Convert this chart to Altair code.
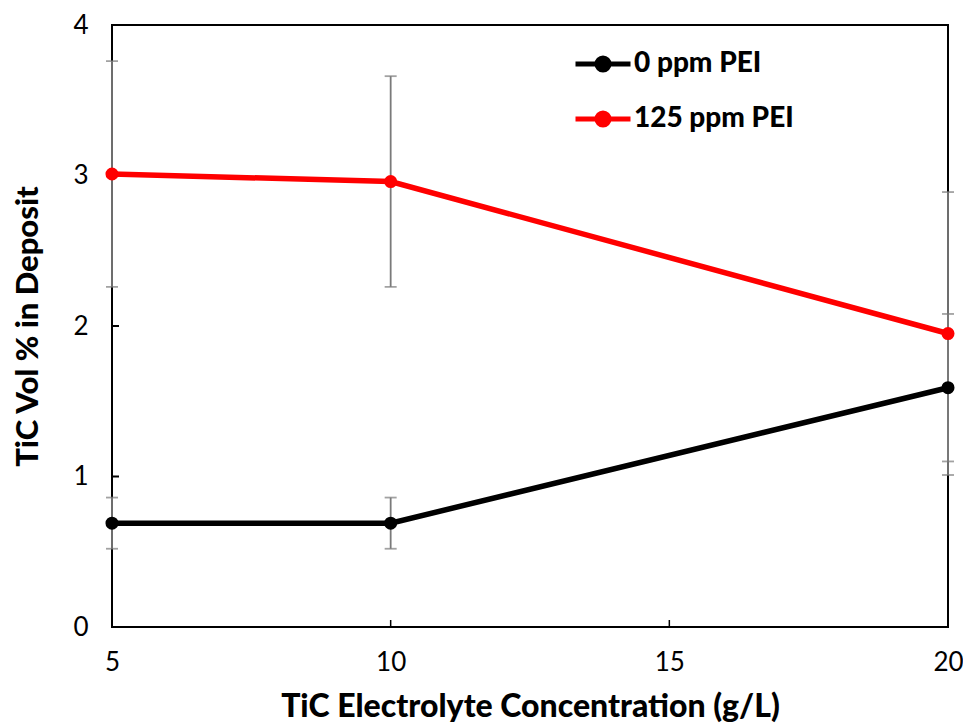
import altair as alt
import pandas as pd

series_names = ["0 ppm PEI", "125 ppm PEI"]
conc = [5, 10, 20]
vals_0 = [0.69, 0.69, 1.59]
err_0 = [0.17, 0.17, 0.49]
vals_125 = [3.01, 2.96, 1.95]
err_125 = [0.75, 0.70, 0.94]
x_ticks = [5, 10, 15, 20]
y_ticks = [0, 1, 2, 3, 4]
colors = ["#000000", "#FF0000"]

rows = []
for name, vals, errs in [(series_names[0], vals_0, err_0), (series_names[1], vals_125, err_125)]:
    for c, v, e in zip(conc, vals, errs):
        rows.append({"series": name, "conc": c, "val": v, "lo": v - e, "hi": v + e})
df = pd.DataFrame(rows)
tick_df = pd.DataFrame({"yt": [1, 2, 3], "xt": [10, 15, 17.5]})

FONT = "Lato"
xscale = alt.Scale(domain=[5, 20], nice=False, zero=False)
yscale = alt.Scale(domain=[0, 4], nice=False)
color_scale = alt.Scale(domain=series_names, range=colors)

base = alt.Chart(df)

X = alt.X("conc:Q", scale=xscale,
          axis=alt.Axis(values=x_ticks, title="TiC Electrolyte Concentration (g/L)", grid=False,
                        domain=False, ticks=False, labelPadding=22, labelFontSize=26,
                        labelFont=FONT, labelColor="black", titleFont=FONT, titleFontSize=32,
                        titleFontWeight=900, titleColor="black", titlePadding=16,
                        labelFlush=False, format="d"))
Y = alt.Y("val:Q", scale=yscale,
          axis=alt.Axis(values=y_ticks, title="TiC Vol % in Deposit", grid=False, domain=False,
                        ticks=False, labelPadding=24, labelFontSize=26, labelFont=FONT,
                        labelColor="black", titleFont=FONT, titleFontSize=31, titleFontWeight=900,
                        titleColor="black", titlePadding=28, format="d"))

err_rule = base.mark_rule(color="#7a7a7a", strokeWidth=1.8).encode(
    x=alt.X("conc:Q", scale=xscale), y=alt.Y("lo:Q", scale=yscale), y2="hi:Q")
cap_lo = base.mark_tick(color="#7a7a7a", thickness=1.8, size=12, orient="horizontal").encode(
    x=alt.X("conc:Q", scale=xscale), y=alt.Y("lo:Q", scale=yscale))
cap_hi = base.mark_tick(color="#7a7a7a", thickness=1.8, size=12, orient="horizontal").encode(
    x=alt.X("conc:Q", scale=xscale), y=alt.Y("hi:Q", scale=yscale))

ytick_marks = alt.Chart(tick_df).mark_rule(color="black", strokeWidth=2).encode(
    y=alt.Y("yt:Q", scale=yscale), x=alt.value(0), x2=alt.value(7))
xtick_marks = alt.Chart(tick_df).transform_filter("datum.xt <= 15").mark_rule(color="black", strokeWidth=1.5).encode(
    x=alt.X("xt:Q", scale=xscale), y=alt.value(602), y2=alt.value(595))

symbol_path = ("M-1,0L1,0M-0.22,0A0.22,0.22,0,1,0,0.22,0A0.22,0.22,0,1,0,-0.22,0Z")

lines = base.mark_line(strokeWidth=5.5).encode(
    x=X, y=Y,
    color=alt.Color("series:N", scale=color_scale,
                    legend=alt.Legend(title=None, orient="none", legendX=461, legendY=9,
                                      symbolType=symbol_path, symbolSize=3025,
                                      symbolStrokeWidth=5, symbolFillColor="black",
                                      labelFont=FONT, labelFontSize=28, labelFontWeight=900,
                                      labelColor="black", rowPadding=8, labelOffset=1,
                                      symbolOpacity=1)))
points = base.mark_circle(size=170, opacity=1).encode(
    x=alt.X("conc:Q", scale=xscale), y=alt.Y("val:Q", scale=yscale),
    color=alt.Color("series:N", scale=color_scale, legend=None))

chart = alt.layer(ytick_marks, xtick_marks, err_rule, cap_lo, cap_hi, lines, points).properties(
    width=836, height=602,
    autosize=alt.AutoSizeParams(type="none"),
    padding={"left": 104, "top": 17, "right": 15, "bottom": 100},
    background="white",
).configure_view(stroke="black", strokeWidth=2)

chart.save("out.html", embed_options={"renderer": "svg", "actions": False})
